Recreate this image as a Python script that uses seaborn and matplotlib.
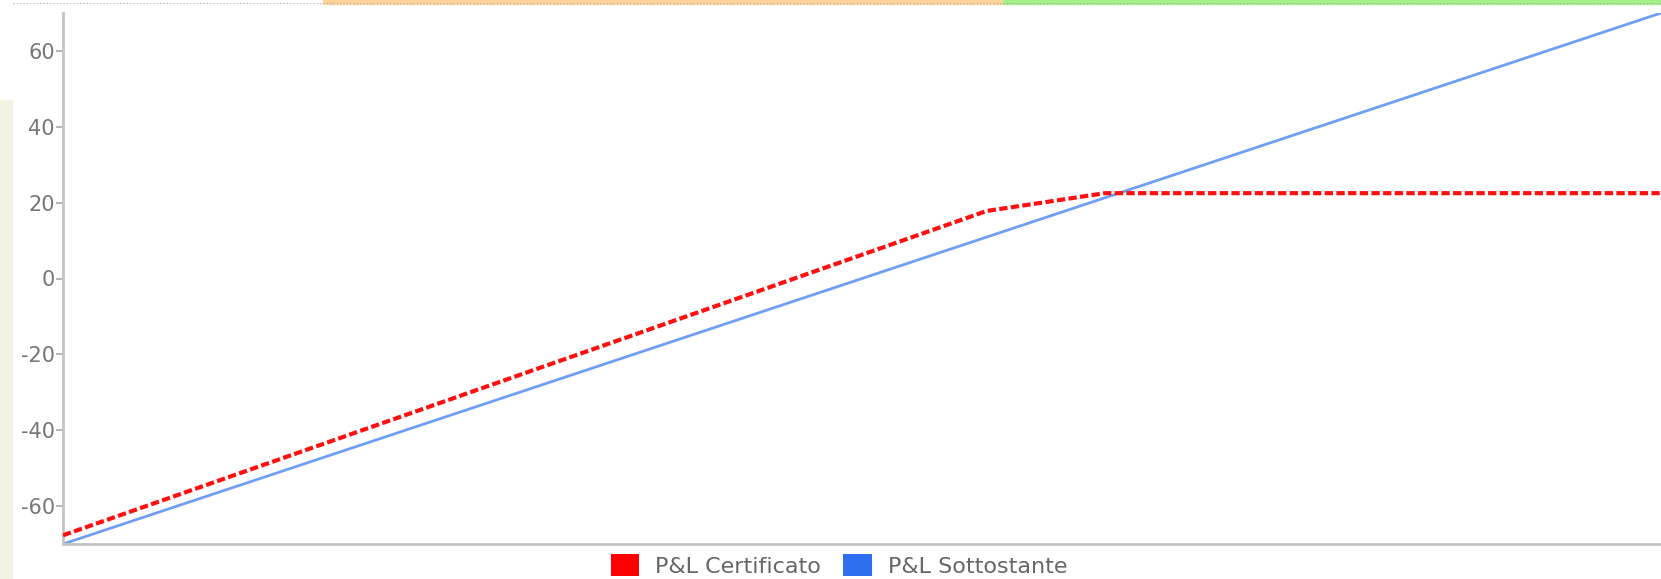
import matplotlib
matplotlib.use("Agg")
import matplotlib.pyplot as plt
from matplotlib.patches import Patch, Rectangle
from matplotlib.lines import Line2D
import seaborn as sns
import pandas as pd

# Data (x = underlying level in % of range shown, y = P&L)
cert_x = [0, 57.8, 65.2, 100]
cert_y = [-67.7, 17.8, 22.5, 22.5]
under_x = [0, 100]
under_y = [-70, 70]
yticks = [-60, -40, -20, 0, 20, 40, 60]
labels = ["P&L Certificato", "P&L Sottostante"]

sns.set_theme(style="white")
plt.rcParams['font.family'] = ['DejaVu Sans']
plt.rcParams['axes.unicode_minus'] = False

W, H = 1661, 579
fig = plt.figure(figsize=(W / 100, H / 100), dpi=100)
ax = fig.add_axes([63 / W, 1 - 544 / H, 1 - 63 / W, (544 - 13) / H])

df_c = pd.DataFrame({"x": cert_x, "y": cert_y})
df_u = pd.DataFrame({"x": under_x, "y": under_y})

sns.lineplot(data=df_u, x="x", y="y", ax=ax, color="#6f9ff4", lw=2.0, zorder=2)
sns.lineplot(data=df_c, x="x", y="y", ax=ax, color="#ff1010", lw=3.0,
             dashes=False, zorder=3)
ax.lines[-1].set_dashes([2.0, 0.8])

ax.set_xlim(0, 100)
ax.set_ylim(-70, 70)
ax.set_yticks(yticks)
ax.set_xticks([])
ax.set_xlabel("")
ax.set_ylabel("")
ax.tick_params(axis="y", direction="out", length=5, width=1.2, color="#aaaaaa",
               labelcolor="#777777", labelsize=15, pad=1, left=True)
for s in ["top", "right"]:
    ax.spines[s].set_visible(False)
for s in ["left", "bottom"]:
    ax.spines[s].set_color("#c4c4c4")
    ax.spines[s].set_linewidth(2.0)
ax.set_facecolor("white")

# top band (clipped zone strip)
fig.patches.append(Rectangle((323 / W, 1 - 4 / H), (1003 - 323) / W, 4 / H,
                             transform=fig.transFigure, color="#ffd49a", zorder=0))
fig.patches.append(Rectangle((1003 / W, 1 - 4 / H), (W - 1003) / W, 4 / H,
                             transform=fig.transFigure, color="#a6f08a", zorder=0))
fig.lines.append(Line2D([13 / W, 1], [1 - 3 / H, 1 - 3 / H], transform=fig.transFigure,
                        color="#aaaaaa", lw=0.8, ls=(0, (1, 2))))
# left beige strip
fig.patches.append(Rectangle((0, 0), 12 / W, 1 - 100 / H, transform=fig.transFigure,
                             color="#f3f2e3", zorder=0))

handles = [Patch(facecolor="#ff0000", edgecolor="none"),
           Patch(facecolor="#2f6fef", edgecolor="none")]
fig.legend(handles, labels, loc="center", bbox_to_anchor=(0.505, 0.024), ncol=2,
           frameon=False, fontsize=16, handlelength=1.3, handleheight=1.2,
           handletextpad=0.7, columnspacing=1.0, labelcolor="#666666")

fig.savefig("out.png", dpi=100)
